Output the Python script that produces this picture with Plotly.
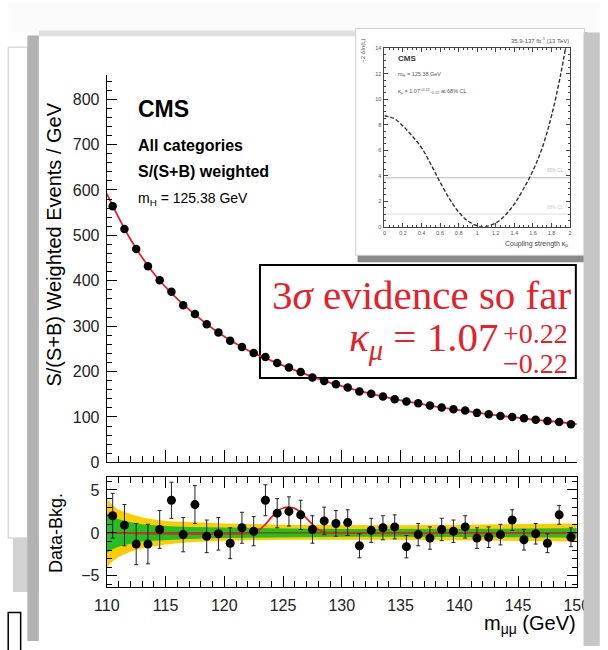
import plotly.graph_objects as go

# ---------------- data ----------------
mass = [110.5 + i for i in range(40)]
data_w = [564, 514, 470, 432, 401, 376, 346, 327, 304, 286, 268, 254, 241, 232, 219, 209, 199, 187, 179, 172,
          165, 156, 151, 145, 139, 134, 130, 125, 121, 117, 114, 109, 106, 102, 100, 97, 94, 91, 89, 84]

fit_x = [110, 112, 114, 116, 118, 120, 122, 124, 126, 128, 130, 132, 134, 136, 138, 140, 142, 144, 146, 148, 150]
fit_y = [592, 492, 416, 360, 315, 277, 247, 224, 203, 184, 168, 154, 142, 132, 123, 115, 108, 101, 95, 90, 84]

resid = [2.0, 0.9, -1.3, -1.3, 0.4, 3.8, -0.2, 3.3, -0.4, -0.1, -1.2, 0.6, 0.2, 3.8, 2.3, 2.5, 2.1, 0.4, 1.4, 1.1,
         1.2, -1.5, 0.3, 0.6, 0.7, -1.6, -0.2, -0.6, 0.4, 0.2, 0.7, -0.6, -0.5, -0.2, 1.5, -0.8, -0.1, -1.2, 2.1, -0.5]
resid_err = [2.6, 2.4, 2.4, 2.3, 2.2, 2.1, 2.0, 2.2, 1.9, 1.9, 1.8, 1.8, 1.7, 1.8, 1.7, 1.7, 1.7, 1.6, 1.6, 1.5,
             1.5, 1.4, 1.4, 1.4, 1.4, 1.3, 1.3, 1.3, 1.3, 1.3, 1.3, 1.2, 1.2, 1.2, 1.2, 1.2, 1.2, 1.1, 1.1, 1.1]

band_x = [110, 110.5, 111, 112, 113, 114, 115, 117, 120, 125, 130, 135, 140, 145, 150]
y2_hi = [4.0, 3.2, 2.7, 2.2, 1.8, 1.55, 1.4, 1.25, 1.1, 0.95, 0.9, 0.9, 0.95, 1.0, 1.1]
y2_lo = [-4.0, -3.3, -2.8, -2.2, -1.8, -1.55, -1.35, -1.1, -0.9, -0.8, -0.8, -0.8, -0.85, -0.9, -1.0]
y1_hi = [2.3, 1.9, 1.6, 1.25, 1.0, 0.9, 0.8, 0.7, 0.6, 0.5, 0.45, 0.45, 0.45, 0.5, 0.55]
y1_lo = [-2.3, -1.9, -1.6, -1.25, -1.0, -0.9, -0.8, -0.7, -0.6, -0.5, -0.45, -0.45, -0.45, -0.5, -0.55]

sig_x = [110, 122.3, 123, 123.5, 124, 124.5, 125, 125.5, 126, 126.5, 127, 127.5, 128, 128.6, 130, 150]
sig_y = [0, 0, 0.4, 1.0, 1.8, 2.5, 2.9, 3.0, 2.85, 2.4, 1.7, 1.0, 0.4, 0.05, 0, 0]

kappa = [0, 0.1, 0.2, 0.3, 0.4, 0.5, 0.6, 0.7, 0.8, 0.9, 1.0, 1.08, 1.2, 1.3, 1.4, 1.5, 1.6, 1.7, 1.8, 1.9, 1.95]
nll = [8.7, 8.5, 7.9, 7.1, 6.2, 4.9, 3.5, 2.2, 1.15, 0.45, 0.08, 0.0, 0.3, 0.9, 1.8, 3.0, 4.4, 6.2, 8.7, 12.0, 14.0]

# ---------------- geometry helpers ----------------
W, H = 608, 650
def px(x): return x / W
def py(y): return 1 - y / H

X0, X1 = 98, 589
UP_T, UP_B = 73, 468
LO_T, LO_B = 483, 595
UP_MAX = 854
pxu = (UP_B - UP_T) / UP_MAX
RED = "#e3222b"
SANS = "Liberation Sans"
SERIF = "Liberation Serif"

fig = go.Figure()

# upper panel
fig.add_trace(go.Scatter(x=fit_x, y=fit_y, mode="lines", line=dict(color=RED, width=1.8, shape="spline"),
                         xaxis="x", yaxis="y", hoverinfo="skip"))
fig.add_trace(go.Scatter(x=mass, y=data_w, mode="markers", marker=dict(color="black", size=8.5),
                         xaxis="x", yaxis="y"))

# lower panel bands
fig.add_trace(go.Scatter(x=band_x + band_x[::-1], y=y2_hi + y2_lo[::-1], fill="toself", mode="lines",
                         line=dict(width=0), fillcolor="#ffcc00", xaxis="x2", yaxis="y2", hoverinfo="skip"))
fig.add_trace(go.Scatter(x=band_x + band_x[::-1], y=y1_hi + y1_lo[::-1], fill="toself", mode="lines",
                         line=dict(width=0), fillcolor="#22c022", xaxis="x2", yaxis="y2", hoverinfo="skip"))
fig.add_trace(go.Scatter(x=[110, 150], y=[0, 0], mode="lines", line=dict(color="#a02020", width=1),
                         xaxis="x2", yaxis="y2", hoverinfo="skip"))
fig.add_trace(go.Scatter(x=sig_x, y=sig_y, mode="lines", line=dict(color=RED, width=1.8, shape="spline", smoothing=0.6),
                         xaxis="x2", yaxis="y2", hoverinfo="skip"))
fig.add_trace(go.Scatter(x=mass, y=resid, mode="markers", marker=dict(color="black", size=9),
                         error_y=dict(type="data", array=resid_err, color="#222", thickness=1, width=2),
                         xaxis="x2", yaxis="y2"))

# inset
fig.add_trace(go.Scatter(x=[0, 2], y=[3.84, 3.84], mode="lines", line=dict(color="#bbbbbb", width=1),
                         xaxis="x4", yaxis="y4", hoverinfo="skip"))
fig.add_trace(go.Scatter(x=[0, 2], y=[1, 1], mode="lines", line=dict(color="#dddddd", width=1),
                         xaxis="x4", yaxis="y4", hoverinfo="skip"))
fig.add_trace(go.Scatter(x=kappa, y=nll, mode="lines", line=dict(color="#333", width=1.4, dash="4px,2px", shape="spline"),
                         xaxis="x4", yaxis="y4"))

tickfont = dict(family=SANS, size=16, color="#222")
common = dict(showline=True, linecolor="black", linewidth=1.3, ticks="inside", tickcolor="black",
              showgrid=False, zeroline=False)
inset_common = dict(showline=True, linecolor="#444", linewidth=0.8, ticks="inside", tickcolor="#444",
                    showgrid=False, zeroline=False, mirror="allticks",
                    tickfont=dict(family=SANS, size=5.5, color="#555"), ticklabelstandoff=1)

fig.update_layout(
    width=W, height=H, margin=dict(l=0, r=0, t=0, b=0),
    paper_bgcolor="white", plot_bgcolor="rgba(0,0,0,0)", showlegend=False,
    xaxis=dict(domain=[px(X0), px(X1)], anchor="y", range=[110, 150], dtick=5, ticklen=12,
               minor=dict(dtick=1, ticklen=6, ticks="inside", tickcolor="black"),
               showticklabels=False, **common),
    yaxis=dict(domain=[py(UP_B), py(UP_T)], anchor="x", range=[0, UP_MAX], dtick=100, ticklen=10,
               minor=dict(dtick=20, ticklen=5, ticks="inside", tickcolor="black"),
               tickfont=tickfont, ticklabelstandoff=3, **common),
    xaxis3=dict(domain=[px(X0), px(360)], anchor="y", side="top",
                range=[110, 110 + (360 - X0) * 40 / (X1 - X0)], dtick=5, ticklen=12,
                minor=dict(dtick=1, ticklen=6, ticks="inside", tickcolor="black"),
                showticklabels=False, **common),
    yaxis3=dict(domain=[py(UP_B), py(258)], anchor="x", side="right",
                range=[0, (UP_B - 258) / pxu], dtick=100, ticklen=10,
                minor=dict(dtick=20, ticklen=5, ticks="inside", tickcolor="black"),
                showticklabels=False, **common),
    xaxis2=dict(domain=[px(X0), px(X1)], anchor="y2", range=[110, 150], dtick=5, ticklen=11, mirror="allticks",
                minor=dict(dtick=1, ticklen=6, ticks="inside", tickcolor="black"),
                tickfont=tickfont, ticklabelstandoff=4, **common),
    yaxis2=dict(domain=[py(LO_B), py(LO_T)], anchor="x2", range=[-6.3, 6.5], dtick=5, ticklen=10, mirror="allticks",
                minor=dict(dtick=1, ticklen=5, ticks="inside", tickcolor="black"),
                tickfont=tickfont, ticklabelstandoff=3, **common),
    xaxis4=dict(domain=[px(388), px(582)], anchor="y4", range=[0, 2], dtick=0.2, ticklen=4,
                minor=dict(dtick=0.05, ticklen=2, ticks="inside", tickcolor="#444"), **inset_common),
    yaxis4=dict(domain=[py(228), py(46)], anchor="x4", range=[0, 14], dtick=2, ticklen=4,
                minor=dict(dtick=0.5, ticklen=2, ticks="inside", tickcolor="#444"), **inset_common),
)

# ---------------- slide decorations ----------------
def rect(x0, y0, x1, y1, fill, line=None, lw=0, layer="below"):
    return dict(type="rect", xref="paper", yref="paper", x0=px(x0), x1=px(x1), y0=py(y1), y1=py(y0),
                fillcolor=fill, line=dict(color=line or fill, width=lw), layer=layer)

shapes = [
    rect(-5, 0, 613, 30, "#fbfbfb"),
    rect(27, 28, 597, 34, "#dedede"),
    rect(-5, 45, 15, 545, "white", "#c8c8c8", 1),
    rect(0, 545, 27, 600, "#d2d2d2"),
    rect(15, 33, 27, 650, "#b2b2b2"),
    rect(-5, 621, 8, 660, "white", "black", 1.5),
    # inset card with shadow
    rect(360, 30, 600, 264, "#8a8a8a"),
    rect(358, 26, 597, 257, "white", "#d0d0d0", 1),
    # red text box
    dict(type="rect", xref="paper", yref="paper", x0=px(258), x1=px(588), y0=py(382), y1=py(267),
         fillcolor="white", line=dict(color="black", width=2), layer="below"),
    rect(596, 30, 613, 655, "#c6c6c6", layer="above"),
]
fig.update_layout(shapes=shapes)

# ---------------- text ----------------
anns = []
def ann(text, x, y, size, color="black", family=SANS, xa="left", ya="middle", angle=0):
    anns.append(dict(text=text, x=px(x), y=py(y), xref="paper", yref="paper", showarrow=False,
                     xanchor=xa, yanchor=ya, textangle=angle,
                     font=dict(family=family, size=size, color=color)))

ann("S/(S+B) Weighted Events / GeV", 43, 246, 20, xa="center", angle=-90)
ann("Data-Bkg.", 45, 540, 18, xa="center", angle=-90)
ann("m<sub>μμ</sub> (GeV)", 590, 633, 20, xa="right")
ann("<b>CMS</b>", 129, 108, 23)
ann("<b>All categories</b>", 129, 145, 16)
ann("<b>S/(S+B) weighted</b>", 129, 172, 16)
ann("m<sub>H</sub> = 125.38 GeV", 129, 200, 14)

ann("3<i>σ</i> evidence so far", 585, 297, 41, RED, SERIF, xa="right")
ann("<i>κ</i><sub><i>μ</i></sub> = 1.07", 509, 343, 41, RED, SERIF, xa="right")
ann("+0.22", 510, 337, 28, RED, SERIF)
ann("−0.22", 510, 367, 28, RED, SERIF)

# inset text
ann("35.9-137 fb<sup>-1</sup> (13 TeV)", 583, 38, 6, "#555", xa="right")
ann("<b>CMS</b>", 400, 57, 8, "#333")
ann("m<sub>H</sub> = 125.38 GeV", 400, 73, 5.5, "#555")
ann("κ<sub>μ</sub> = 1.07<sup>+0.22</sup><sub>−0.22</sub> at 68% CL", 400, 90, 5.5, "#555")
ann("−2 Δln(L)", 366, 34, 6, "#555", xa="center", ya="top", angle=-90)
ann("Coupling strength κ<sub>μ</sub>", 582, 246, 7, "#444", xa="right")
ann("95% CL", 578, 171, 4.5, "#bbbbbb", xa="right")
ann("68% CL", 578, 208, 4.5, "#cccccc", xa="right")

fig.update_layout(annotations=anns)

fig.write_html("out.html")
